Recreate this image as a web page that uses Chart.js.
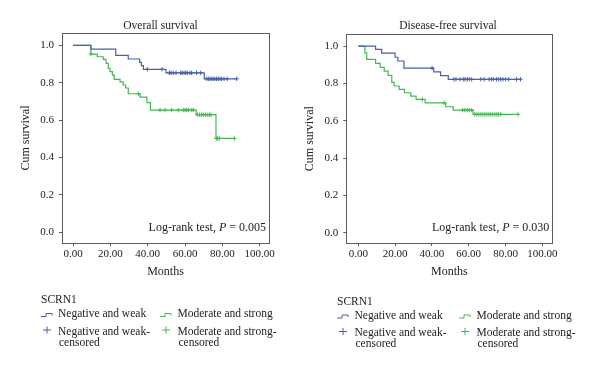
<!DOCTYPE html>
<html>
<head>
<meta charset="utf-8">
<script src="https://cdn.jsdelivr.net/npm/chart.js@4.4.1/dist/chart.umd.min.js"></script>
<style>
  html, body { margin: 0; padding: 0; background: #fff; }
  #wrap { position: relative; width: 600px; height: 372px; }
  canvas { position: absolute; top: 0; }
</style>
</head>
<body>
<div id="wrap">
  <canvas id="os" width="300" height="372" style="left:0"></canvas>
  <canvas id="dfs" width="300" height="372" style="left:300px"></canvas>
</div>
<script>
// Overall survival, negative and weak: event times (months) and survival after each event
const osTimesNeg = [0, 9.6, 22.9, 29.6, 35.7, 36.6, 37.7, 49.8, 70.3];
const osSurvNeg = [1, 0.980, 0.946, 0.927, 0.909, 0.891, 0.872, 0.853, 0.821];
const osCensNeg = [39.8, 47.7, 51.6, 52.5, 53.7, 55.2, 57.7, 58.5, 59.5, 60.4, 61.2, 62.7, 63.6,
  66.2, 68.4, 71.6, 72.5, 73.4, 74.3, 75.1, 76.0, 76.9, 77.8, 78.7, 79.6, 80.9, 82.6, 87.7];

// Overall survival, moderate and strong
const osTimesMod = [0, 9.6, 13.0, 16.2, 17.7, 18.9, 19.8, 21.1, 22.1, 25.2, 26.9, 28.2, 29.6,
  35.9, 39.6, 41.5, 66.0, 76.6];
const osSurvMod = [1, 0.953, 0.939, 0.925, 0.904, 0.877, 0.859, 0.841, 0.818, 0.805, 0.788,
  0.772, 0.741, 0.723, 0.694, 0.654, 0.629, 0.502];
const osCensMod = [9.6, 35.0, 46.6, 49.3, 52.8, 56.4, 59.1, 60.0, 60.9, 61.8, 63.6, 64.5,
  66.6, 67.7, 68.9, 69.8, 70.9, 71.9, 73.0, 73.9, 76.8, 77.5, 78.4, 86.4];

// Disease-free survival, negative and weak
const dfsTimesNeg = [0, 9.4, 12.7, 20.0, 21.5, 24.8, 41.0, 44.7, 48.9];
const dfsSurvNeg = [1, 0.982, 0.962, 0.940, 0.920, 0.882, 0.862, 0.842, 0.822];
const dfsCensNeg = [40.1, 52.0, 53.1, 55.2, 57.0, 58.0, 59.2, 60.3, 61.6, 66.6, 68.4, 71.1, 72.4,
  73.6, 75.1, 76.3, 77.4, 78.6, 80.1, 81.7, 85.9, 88.1];

// Disease-free survival, moderate and strong
const dfsTimesMod = [0, 3.6, 4.6, 9.4, 11.9, 14.1, 16.2, 18.2, 19.5, 22.2, 25.1, 28.5, 31.4,
  36.3, 47.5, 51.6, 62.4];
const dfsSurvMod = [1, 0.964, 0.929, 0.907, 0.886, 0.866, 0.843, 0.805, 0.786, 0.768, 0.750,
  0.732, 0.714, 0.696, 0.675, 0.657, 0.634];
const dfsCensMod = [34.8, 46.6, 56.7, 57.9, 59.2, 60.3, 61.6, 63.3, 64.4, 65.5, 66.6, 67.7,
  68.8, 69.9, 71.0, 72.0, 73.1, 74.2, 75.3, 76.3, 77.4, 86.8];

const xTicks = [0, 20, 40, 60, 80, 100];
const yTicks = [0, 0.2, 0.4, 0.6, 0.8, 1.0];
const groupLabels = ['Negative and weak', 'Moderate and strong'];

const BLUE = '#4a5ea9';
const GREEN = '#46b655';
const serif = '"Liberation Serif", "DejaVu Serif", serif';

function survAt(times, surv, t) {
  let s = surv[0];
  for (let i = 0; i < times.length; i++) if (times[i] <= t) s = surv[i];
  return s;
}

function kmSets(times, surv, cens, color) {
  const line = times.map((t, i) => ({ x: t, y: surv[i] }));
  const end = Math.max(times[times.length - 1], ...cens);
  line.push({ x: end, y: survAt(times, surv, end) });
  const marks = cens.map(t => ({ x: t, y: survAt(times, surv, t) }));
  return [
    { data: line, stepped: true, borderColor: color, borderWidth: 1.2, pointRadius: 0, fill: false },
    { data: marks, showLine: false, pointStyle: 'cross', pointRadius: 2.2, borderColor: color,
      borderWidth: 1, backgroundColor: color }
  ];
}

const decor = {
  id: 'decor',
  afterDraw(chart, args, o) {
    const { ctx, chartArea: a } = chart;
    ctx.save();
    ctx.strokeStyle = '#5c5c5c';
    ctx.lineWidth = 1;
    ctx.strokeRect(Math.round(a.left) + 0.5, Math.round(a.top) + 0.5,
      Math.round(a.right - a.left), Math.round(a.bottom - a.top));

    ctx.fillStyle = '#222';
    ctx.textBaseline = 'middle';
    ctx.font = '11.5px ' + serif;
    ctx.textAlign = 'center';
    ctx.fillText(o.title, o.titleX, o.titleY);

    // log-rank text, right aligned, italic P
    const parts = [['Log-rank test, ', ''], ['P', 'italic '], [' = ' + o.p, '']];
    let w = 0;
    parts.forEach(p => { ctx.font = p[1] + '12px ' + serif; w += ctx.measureText(p[0]).width; });
    let x = o.pX - w;
    ctx.textAlign = 'left';
    parts.forEach(p => {
      ctx.font = p[1] + '12px ' + serif;
      ctx.fillText(p[0], x, o.pY);
      x += ctx.measureText(p[0]).width;
    });

    // legend
    const L = o.legend;
    ctx.font = '11.5px ' + serif;
    ctx.fillStyle = '#222';
    ctx.fillText('SCRN1', L.x, L.y0);
    [[L.x, L.tx, BLUE, groupLabels[0]], [L.x2, L.tx2, GREEN, groupLabels[1]]].forEach(c => {
      const [ix, tx, col, lab] = c;
      ctx.strokeStyle = col;
      ctx.lineWidth = 1;
      ctx.beginPath();
      ctx.moveTo(ix, L.y1 + 2.5);
      ctx.lineTo(ix + 5, L.y1 + 2.5);
      ctx.lineTo(ix + 5, L.y1 - 0.5);
      ctx.lineTo(ix + 11, L.y1 - 0.5);
      ctx.lineTo(ix + 11, L.y1 + 1.5);
      ctx.stroke();
      ctx.beginPath();
      ctx.moveTo(ix + 2, L.y2 - 1.5);
      ctx.lineTo(ix + 10, L.y2 - 1.5);
      ctx.moveTo(ix + 6, L.y2 - 5);
      ctx.lineTo(ix + 6, L.y2 + 2);
      ctx.stroke();
      ctx.fillStyle = '#222';
      ctx.fillText(lab, tx, L.y1);
      ctx.fillText(lab + '-', tx, L.y2);
      ctx.fillText('censored', tx + 1, L.y3);
    });
    ctx.restore();
  }
};

function fixWidth(w) {
  return s => { s.width = w; s.paddingTop = 0; s.paddingBottom = 0; };
}
function fixHeight(h) {
  return s => { s.height = h; s.paddingLeft = 0; s.paddingRight = 0; };
}

function makeChart(id, sets, lay, dec) {
  const tickFont = { family: serif, size: 11 };
  const titleFont = { family: serif, size: 12 };
  return new Chart(document.getElementById(id), {
    type: 'line',
    data: { datasets: sets },
    options: {
      responsive: false,
      animation: false,
      devicePixelRatio: 1,
      layout: { padding: lay.padding },
      plugins: { legend: { display: false }, tooltip: { enabled: false }, decor: dec },
      scales: {
        x: {
          type: 'linear', min: lay.xMin, max: lay.xMax,
          afterBuildTicks: s => { s.ticks = xTicks.map(v => ({ value: v })); },
          afterFit: fixHeight(lay.xH),
          border: { display: false },
          grid: { drawOnChartArea: false, drawTicks: true, tickLength: 3, color: '#5c5c5c' },
          ticks: { font: tickFont, color: '#222', padding: 2, maxRotation: 0,
            callback: v => v.toFixed(2) },
          title: { display: true, text: 'Months', font: titleFont, color: '#222',
            padding: { top: 0, bottom: 0 } }
        },
        y: {
          min: lay.yMin, max: lay.yMax,
          afterBuildTicks: s => { s.ticks = yTicks.map(v => ({ value: v })); },
          afterFit: fixWidth(lay.yW),
          border: { display: false },
          grid: { drawOnChartArea: false, drawTicks: true, tickLength: 3, color: '#5c5c5c' },
          ticks: { font: tickFont, color: '#222', padding: 5, callback: v => v.toFixed(1) },
          title: { display: true, text: 'Cum survival', font: titleFont, color: '#222',
            padding: { top: 0, bottom: 0 } }
        }
      }
    },
    plugins: [decor]
  });
}

makeChart('os',
  [...kmSets(osTimesNeg, osSurvNeg, osCensNeg, BLUE), ...kmSets(osTimesMod, osSurvMod, osCensMod, GREEN)],
  { padding: { left: 18.8, right: 31, top: 33, bottom: 92.8 }, yW: 43.2, xH: 36.2,
    xMin: -5.9, xMax: 105, yMin: -0.057, yMax: 1.066 },
  { title: 'Overall survival', titleX: 160.5, titleY: 26, p: '0.005', pX: 266, pY: 228,
    legend: { x: 41, y0: 300, y1: 314, y2: 331.5, y3: 343, tx: 58, x2: 160, tx2: 177.5 } });

makeChart('dfs',
  [...kmSets(dfsTimesNeg, dfsSurvNeg, dfsCensNeg, BLUE), ...kmSets(dfsTimesMod, dfsSurvMod, dfsCensMod, GREEN)],
  { padding: { left: 2.8, right: 47.7, top: 34.3, bottom: 92.8 }, yW: 43.5, xH: 36.2,
    xMin: -6.5, xMax: 105.4, yMin: -0.055, yMax: 1.063 },
  { title: 'Disease-free survival', titleX: 148, titleY: 26, p: '0.030', pX: 249.3, pY: 228,
    legend: { x: 37, y0: 301.5, y1: 315.5, y2: 333, y3: 344, tx: 54.5, x2: 159, tx2: 176.5 } });
</script>
</body>
</html>
